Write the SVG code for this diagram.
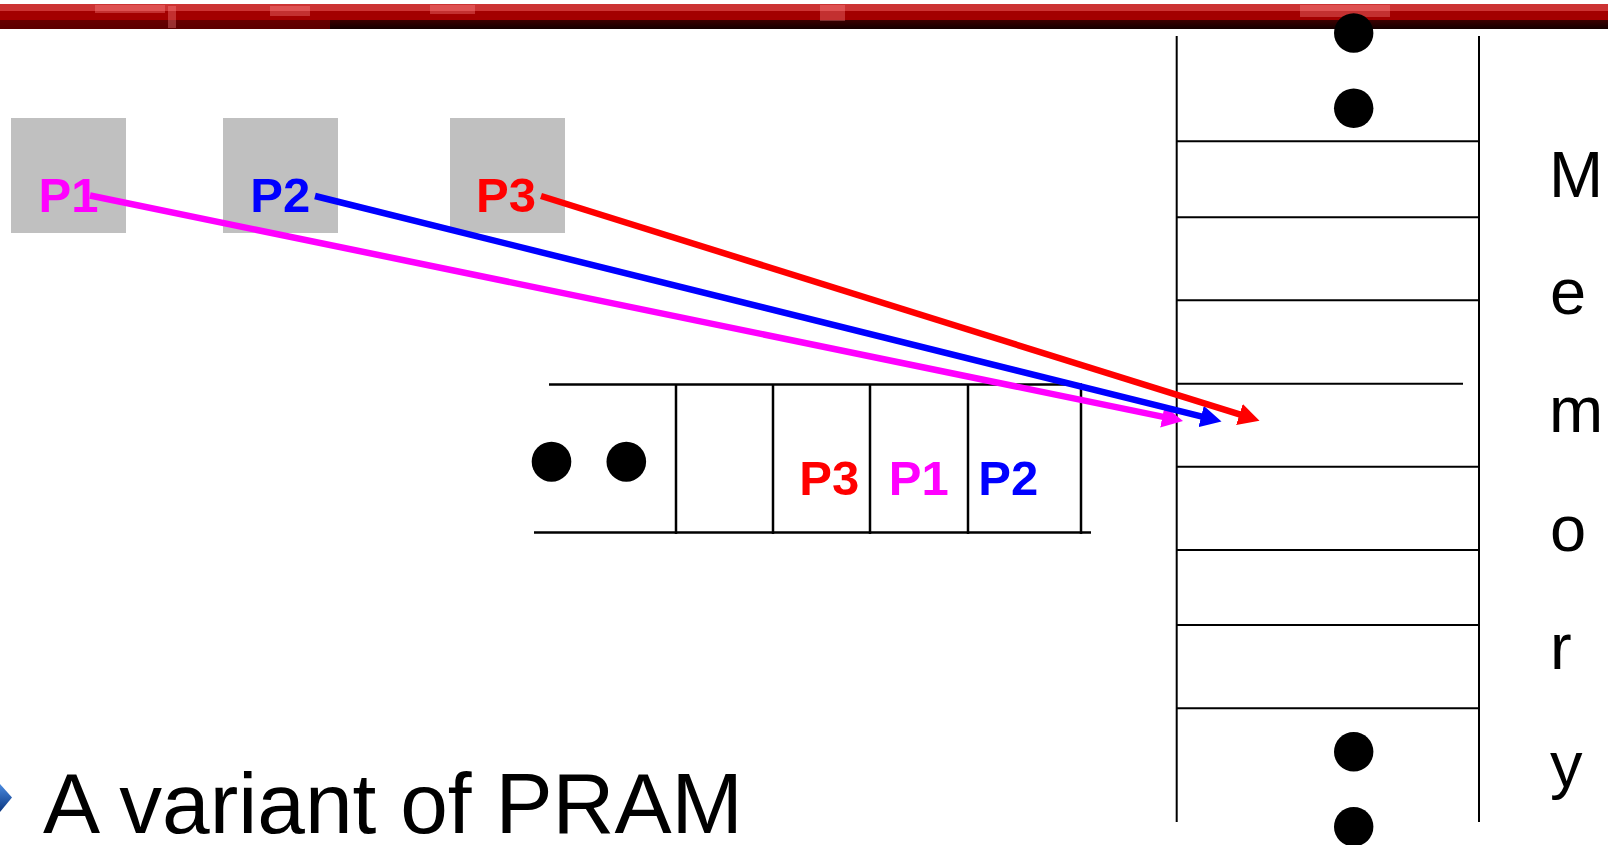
<svg xmlns="http://www.w3.org/2000/svg" width="1608" height="845" viewBox="0 0 1608 845">
  <style>
    .plabel { font-family: "Liberation Sans", Arial, sans-serif; font-weight: bold; font-size: 49px; }
    .mem { font-family: "Liberation Sans", Arial, sans-serif; font-size: 65px; fill: #000; }
    .title { font-family: "Liberation Sans", Arial, sans-serif; font-size: 86px; fill: #000; }
    .box { fill: #c0c0c0; }
    .grid { stroke: #000; stroke-width: 2; fill: none; }
    .qgrid { stroke: #000; stroke-width: 2.5; fill: none; }
    .dot { fill: #000; }
    .arrow { stroke-width: 6.5; fill: none; }
    .hl { fill: #ff8a8a; opacity: 0.35; }
  </style>
  <defs>
    <marker id="headM" markerUnits="userSpaceOnUse" markerWidth="22" markerHeight="22" refX="1" refY="11" orient="auto" viewBox="0 0 22 22">
      <path d="M0,0 L21,11 L0,22 z" fill="#ff00ff"/>
    </marker>
    <marker id="headB" markerUnits="userSpaceOnUse" markerWidth="22" markerHeight="22" refX="1" refY="11" orient="auto" viewBox="0 0 22 22">
      <path d="M0,0 L21,11 L0,22 z" fill="#0000ff"/>
    </marker>
    <marker id="headR" markerUnits="userSpaceOnUse" markerWidth="22" markerHeight="22" refX="1" refY="11" orient="auto" viewBox="0 0 22 22">
      <path d="M0,0 L21,11 L0,22 z" fill="#ff0000"/>
    </marker>
    <linearGradient id="bulletGrad" x1="0" y1="0" x2="0" y2="1">
      <stop offset="0" stop-color="#4a8ae0"/>
      <stop offset="1" stop-color="#0a3680"/>
    </linearGradient>
    <linearGradient id="bandGrad" x1="0" y1="0" x2="0" y2="1">
      <stop offset="0" stop-color="#cc3333"/>
      <stop offset="0.28" stop-color="#cc3333"/>
      <stop offset="0.3" stop-color="#a30000"/>
      <stop offset="0.62" stop-color="#a30000"/>
      <stop offset="0.66" stop-color="#3a0000"/>
      <stop offset="1" stop-color="#150000"/>
    </linearGradient>
  </defs>

  <!-- top band -->
  <g id="band">
    <rect x="0" y="4" width="1608" height="25" fill="url(#bandGrad)"/>
    <rect x="0" y="20" width="330" height="9" fill="#7a0000" opacity="0.7"/>
    <rect class="hl" x="95" y="5" width="70" height="8"/>
    <rect class="hl" x="168" y="6" width="8" height="22"/>
    <rect class="hl" x="270" y="6" width="40" height="10"/>
    <rect class="hl" x="430" y="5" width="45" height="9"/>
    <rect class="hl" x="820" y="5" width="25" height="16"/>
    <rect class="hl" x="1300" y="5" width="90" height="12"/>
  </g>

  <!-- processors -->
  <g id="proc-P1">
    <rect class="box" x="11" y="118" width="115" height="115"/>
    <text class="plabel" x="38.5" y="211.5" fill="#ff00ff">P1</text>
  </g>
  <g id="proc-P2">
    <rect class="box" x="223" y="118" width="115" height="115"/>
    <text class="plabel" x="250.3" y="211.5" fill="#0000ff">P2</text>
  </g>
  <g id="proc-P3">
    <rect class="box" x="450" y="118" width="115" height="115"/>
    <text class="plabel" x="476" y="211.5" fill="#ff0000">P3</text>
  </g>

  <!-- request queue -->
  <g id="queue">
    <line class="qgrid" x1="549" y1="384.5" x2="1082" y2="384.5"/>
    <line class="qgrid" x1="534" y1="532.5" x2="1091" y2="532.5"/>
    <line class="qgrid" x1="676" y1="384" x2="676" y2="534"/>
    <line class="qgrid" x1="773" y1="384" x2="773" y2="534"/>
    <line class="qgrid" x1="870" y1="384" x2="870" y2="534"/>
    <line class="qgrid" x1="968" y1="384" x2="968" y2="534"/>
    <line class="qgrid" x1="1081" y1="384" x2="1081" y2="534"/>
    <ellipse class="dot" cx="551.5" cy="461.7" rx="19.8" ry="20"/>
    <ellipse class="dot" cx="626.3" cy="461.7" rx="19.8" ry="20"/>
    <text class="plabel" x="799.3" y="495" fill="#ff0000">P3</text>
    <text class="plabel" x="888.8" y="495" fill="#ff00ff">P1</text>
    <text class="plabel" x="978.3" y="495" fill="#0000ff">P2</text>
  </g>

  <!-- memory -->
  <g id="memory">
    <line class="grid" x1="1176.7" y1="36" x2="1176.7" y2="822"/>
    <line class="grid" x1="1479" y1="36" x2="1479" y2="822"/>
    <line class="grid" x1="1176.7" y1="141.3" x2="1479" y2="141.3"/>
    <line class="grid" x1="1176.7" y1="217.3" x2="1479" y2="217.3"/>
    <line class="grid" x1="1176.7" y1="300.3" x2="1479" y2="300.3"/>
    <line class="grid" x1="1176.7" y1="383.7" x2="1463" y2="383.7"/>
    <line class="grid" x1="1176.7" y1="466.7" x2="1479" y2="466.7"/>
    <line class="grid" x1="1176.7" y1="550" x2="1479" y2="550"/>
    <line class="grid" x1="1176.7" y1="625" x2="1479" y2="625"/>
    <line class="grid" x1="1176.7" y1="708.3" x2="1479" y2="708.3"/>
    <circle class="dot" cx="1353.7" cy="33" r="19.7"/>
    <circle class="dot" cx="1353.7" cy="108.3" r="19.7"/>
    <circle class="dot" cx="1353.7" cy="751.7" r="19.7"/>
    <circle class="dot" cx="1353.7" cy="826.7" r="19.7"/>
    <text class="mem" x="1549" y="197">M</text>
    <text class="mem" x="1550" y="313.5">e</text>
    <text class="mem" x="1549" y="432">m</text>
    <text class="mem" x="1550" y="551">o</text>
    <text class="mem" x="1550" y="669">r</text>
    <text class="mem" x="1550" y="787">y</text>
  </g>

  <!-- connectors -->
  <g id="connectors">
    <line class="arrow" stroke="#ff00ff" x1="90" y1="195.5" x2="1163.4" y2="416.9" marker-end="url(#headM)"/>
    <line class="arrow" stroke="#0000ff" x1="315" y1="196" x2="1202.1" y2="416.7" marker-end="url(#headB)"/>
    <line class="arrow" stroke="#ff0000" x1="541" y1="196" x2="1240.4" y2="414.7" marker-end="url(#headR)"/>
  </g>

  <!-- bullet text -->
  <g id="bullet">
    <polygon points="0,784 12,797.5 0,812" fill="url(#bulletGrad)"/>
    <text class="title" x="43" y="833" textLength="700" lengthAdjust="spacingAndGlyphs">A variant of PRAM</text>
  </g>
</svg>
